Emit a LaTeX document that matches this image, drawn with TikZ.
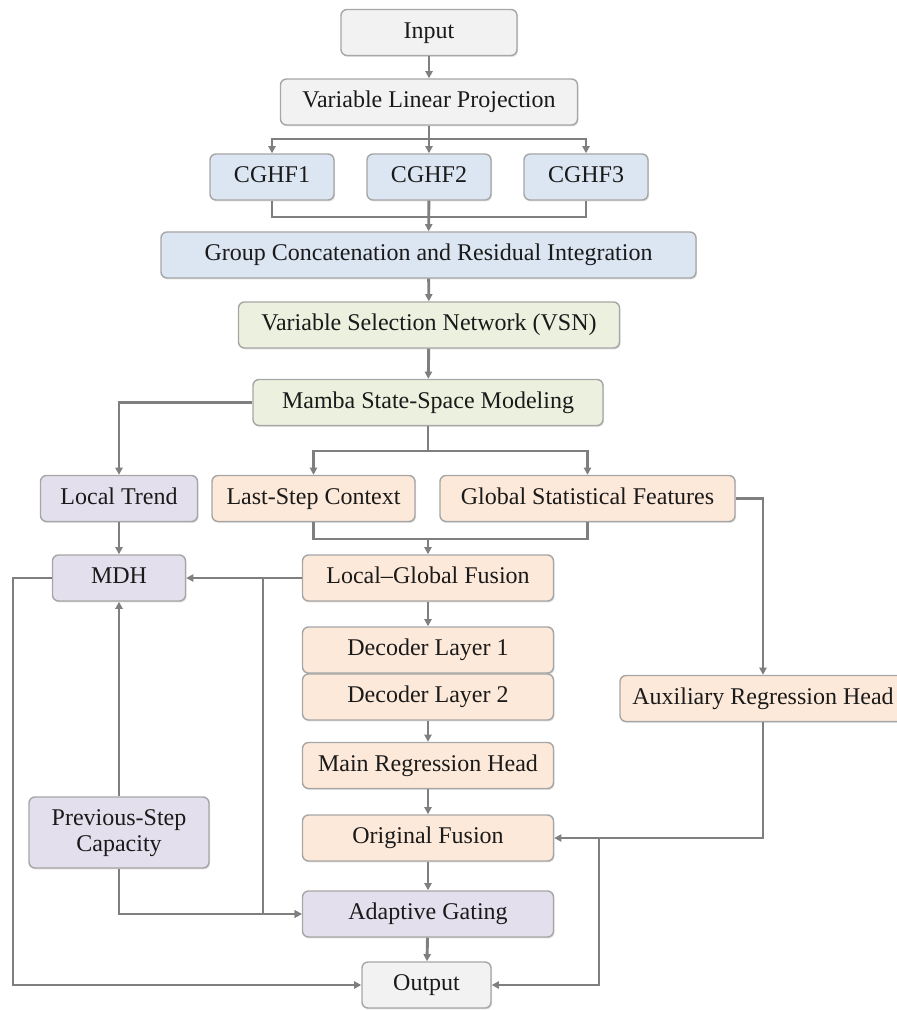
\documentclass[tikz,border=0pt]{standalone}
\usepackage{fontspec}
\setmainfont{Liberation Serif}
\usetikzlibrary{arrows.meta,positioning,shadows}
\definecolor{boxgray}{HTML}{F2F2F2}
\definecolor{boxblue}{HTML}{DCE6F2}
\definecolor{boxgreen}{HTML}{EBF1DE}
\definecolor{boxorange}{HTML}{FDE9D9}
\definecolor{boxpurple}{HTML}{E4DFEC}
\definecolor{edge}{HTML}{A6A6A6}
\definecolor{wire}{HTML}{7F7F7F}
\definecolor{ink}{HTML}{1A1A1A}

\begin{document}
\begin{tikzpicture}[x=0.5pt,y=-0.5pt,>={Triangle[length=3.6pt,width=3.6pt]},
  box/.style={draw=edge,line width=0.7pt,rounded corners=3pt,inner sep=1pt,
    minimum height=23pt,text=ink,font=\fontsize{12}{13}\selectfont,
    text height=8.4pt,text depth=2.6pt,
    drop shadow={shadow xshift=0.5pt,shadow yshift=-0.7pt,opacity=0.25}},
  link/.style={draw=wire,line width=1.45pt}]
\useasboundingbox (0,0) rectangle (896,1010);
% top blocks
\node[box,fill=boxgray,minimum width=88pt] (input) at (429,32.5) {Input};
\node[box,fill=boxgray,minimum width=148.5pt] (proj) at (429,102) {Variable Linear Projection};
\node[box,fill=boxblue,minimum width=62pt] (cghf1) at (272,177) {CGHF1};
\node[box,fill=boxblue,minimum width=62pt] (cghf2) at (429,177) {CGHF2};
\node[box,fill=boxblue,minimum width=62pt] (cghf3) at (586,177) {CGHF3};
\node[box,fill=boxblue,minimum width=267.5pt] (concat) at (428.5,255) {Group Concatenation and Residual Integration};
\node[box,fill=boxgreen,minimum width=190.5pt] (vsn) at (429,325) {Variable Selection Network (VSN)};
\node[box,fill=boxgreen,minimum width=175pt] (mamba) at (428,402.5) {Mamba State-Space Modeling};
% features
\node[box,fill=boxpurple,minimum width=78.5pt] (trend) at (119,498.5) {Local Trend};
\node[box,fill=boxorange,minimum width=101.5pt] (last) at (313.5,498.5) {Last-Step Context};
\node[box,fill=boxorange,minimum width=147.5pt] (global) at (587.5,498.5) {Global Statistical Features};
\node[box,fill=boxpurple,minimum width=66.5pt] (mdh) at (119,578) {MDH};
\node[box,fill=boxorange,minimum width=125.5pt] (fuse) at (428,578) {Local–Global Fusion};
% decoder column
\node[box,fill=boxorange,minimum width=125.5pt] (dec1) at (428,650) {Decoder Layer 1};
\node[box,fill=boxorange,minimum width=125.5pt] (dec2) at (428,697) {Decoder Layer 2};
\node[box,fill=boxorange,minimum width=125.5pt] (mainhead) at (428,765.5) {Main Regression Head};
\node[box,fill=boxorange,minimum width=125.5pt] (orig) at (428,838) {Original Fusion};
\node[box,fill=boxpurple,minimum width=125.5pt] (gate) at (428,914) {Adaptive Gating};
\node[box,fill=boxgray,minimum width=64.5pt] (output) at (426.5,985) {Output};
\node[box,fill=boxpurple,minimum width=90pt,minimum height=35.5pt,align=center,
  text height=21.4pt] (prev) at (119,832.5) {Previous-Step\\Capacity};
\node[box,fill=boxorange,minimum width=143pt] (aux) at (763,698.5) {Auxiliary Regression Head};
% junctions
\coordinate (split1) at (429,139);
\coordinate (merge1) at (429,217);
\coordinate (split2) at (428,451);
\coordinate (merge2) at (428,539);
\coordinate (tap1) at (263,578);
\coordinate (tap2) at (599,838);
\coordinate (rail) at (13,985);
% connectors
\draw[link,->] (input) -- (proj);
\draw[link] (proj) -- (split1);
\draw[link,->] (split1) -| (cghf1);
\draw[link,->] (split1) -- (cghf2);
\draw[link,->] (split1) -| (cghf3);
\draw[link] (cghf1) |- (merge1);
\draw[link] (cghf3) |- (merge1);
\draw[link,->] (cghf2) -- (concat);
\draw[link,->] (concat) -- (vsn);
\draw[link,->] (vsn) -- (mamba);
\draw[link,->] (mamba.west) -| (trend);
\draw[link] (mamba) -- (split2);
\draw[link,->] (split2) -| (last);
\draw[link,->] (split2) -| (global);
\draw[link] (last) |- (merge2);
\draw[link] (global) |- (merge2);
\draw[link,->] (merge2) -- (fuse);
\draw[link,->] (trend) -- (mdh);
\draw[link,->] (fuse.west) -- (mdh.east);
\draw[link,->] (tap1) |- (gate.west);
\draw[link,->] (prev) -- (mdh);
\draw[link,->] (prev) |- (gate.west);
\draw[link,->] (fuse) -- (dec1);
\draw[link,->] (dec2) -- (mainhead);
\draw[link,->] (mainhead) -- (orig);
\draw[link,->] (orig) -- (gate);
\draw[link,->] (gate) -- (output);
\draw[link,->] (mdh.west) -| (rail) -- (output.west);
\draw[link,->] (global.east) -| (aux);
\draw[link,->] (aux) |- (orig.east);
\draw[link,->] (tap2) |- (output.east);
\end{tikzpicture}
\end{document}
